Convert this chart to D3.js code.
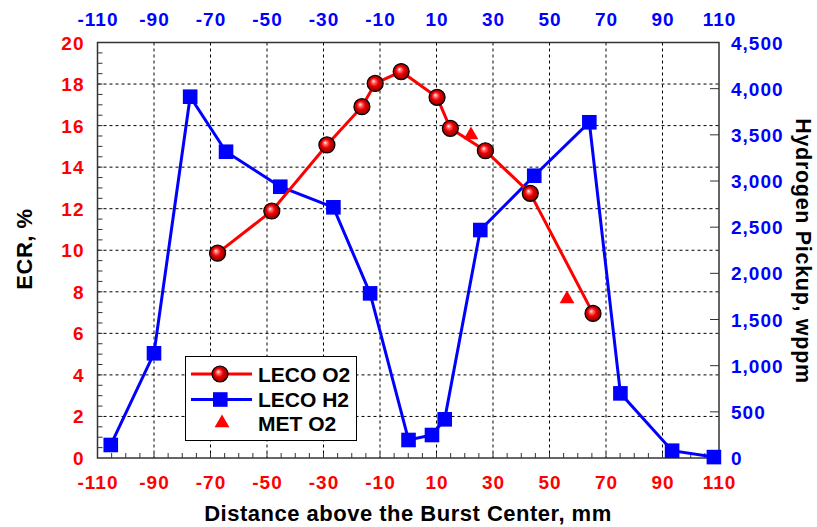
<!DOCTYPE html>
<html><head><meta charset="utf-8">
<script src="https://cdn.jsdelivr.net/npm/d3@7"></script>
<style>
body{margin:0;background:#fff;}
text{font-family:"Liberation Sans",Arial,sans-serif;font-weight:bold;}
</style></head>
<body><svg id="c" width="817" height="527"></svg>
<script>
// Data
const lecoO2X = [-67.5,-48.3,-28.8,-16.4,-11.7,-2.5,10.2,14.9,27.3,43.2,65.4];
const lecoO2Y = [9.86,11.89,15.07,16.91,18.03,18.6,17.36,15.87,14.79,12.74,6.96];
const metO2X = [22.2,56.2];
const metO2Y = [15.55,7.65];
const lecoH2X = [-105.3,-90,-77.2,-64.5,-45.3,-26.5,-13.5,0.1,8.4,12.9,25.5,44.6,64.1,75.1,93.4,108.2];
const lecoH2Y = [141,1134,3913,3317,2938,2715,1783,195,249,419,2469,3057,3636,700,79,10];
const xTicks = [-110,-90,-70,-50,-30,-10,10,30,50,70,90,110];
const yLeftTicks = [0,2,4,6,8,10,12,14,16,18,20];
const yRightTicks = [0,500,1000,1500,2000,2500,3000,3500,4000,4500];
const legendLabels = ["LECO O2","LECO H2","MET O2"];

const svg = d3.select("#c");
const L=97.5, R=719, T=42.5, B=458;
const x = d3.scaleLinear().domain([-110,110]).range([L,R]);
const yL = d3.scaleLinear().domain([0,20]).range([B,T]);
const yR = d3.scaleLinear().domain([0,4500]).range([B,T]);

const defs = svg.append("defs");
const g = defs.append("radialGradient").attr("id","ball").attr("cx","50%").attr("cy","50%").attr("r","55%").attr("fx","38%").attr("fy","35%");
g.append("stop").attr("offset","0%").attr("stop-color","#fff");
g.append("stop").attr("offset","20%").attr("stop-color","#ff7070");
g.append("stop").attr("offset","48%").attr("stop-color","#ee0000");
g.append("stop").attr("offset","82%").attr("stop-color","#a00000");
g.append("stop").attr("offset","100%").attr("stop-color","#400000");

// grid
const grid = svg.append("g").attr("stroke","#000").attr("stroke-width",1).attr("stroke-dasharray","3,3");
xTicks.filter(v=>v>-110&&v<110).forEach(v=>grid.append("line").attr("x1",x(v)).attr("x2",x(v)).attr("y1",T).attr("y2",B));
yLeftTicks.filter(v=>v>0&&v<20).forEach(v=>grid.append("line").attr("y1",yL(v)).attr("y2",yL(v)).attr("x1",L).attr("x2",R));

// minor ticks
const tk = svg.append("g").attr("stroke","#333").attr("stroke-width",1);
d3.range(-105,110,5).forEach(v=>tk.append("line").attr("x1",x(v)).attr("x2",x(v)).attr("y1",B).attr("y2",B-5));
d3.range(0.5,20,0.5).forEach(v=>tk.append("line").attr("y1",yL(v)).attr("y2",yL(v)).attr("x1",L).attr("x2",L+5));
yRightTicks.filter(v=>v>0&&v<4500).forEach(v=>tk.append("line").attr("y1",yR(v)).attr("y2",yR(v)).attr("x1",R).attr("x2",R-9));

// frame
svg.append("rect").attr("x",L).attr("y",T).attr("width",R-L).attr("height",B-T).attr("fill","none").attr("stroke","#333").attr("stroke-width",1.5);

// axes labels
const fs = 19, ls = 1;
svg.append("g").selectAll("text").data(xTicks).join("text").attr("x",d=>x(d)+ls/2).attr("y",488.5).attr("text-anchor","middle")
 .attr("fill","#ff0000").attr("font-size",fs).attr("letter-spacing",ls).text(d=>d);
svg.append("g").selectAll("text").data(xTicks).join("text").attr("x",d=>x(d)+ls/2).attr("y",25.5).attr("text-anchor","middle")
 .attr("fill","#0000ff").attr("font-size",fs).attr("letter-spacing",ls).text(d=>d);
svg.append("g").selectAll("text").data(yLeftTicks).join("text").attr("x",84.5).attr("y",d=>yL(d)+7).attr("text-anchor","end")
 .attr("fill","#ff0000").attr("font-size",fs).attr("letter-spacing",ls).text(d=>d);
svg.append("g").selectAll("text").data(yRightTicks).join("text").attr("x",731).attr("y",d=>yR(d)+7).attr("text-anchor","start")
 .attr("fill","#0000ff").attr("font-size",fs).attr("letter-spacing",ls).text(d=>d3.format(",")(d));

svg.append("text").attr("x",408).attr("y",521).attr("text-anchor","middle").attr("font-size",22).attr("letter-spacing",0.5).attr("fill","#000").text("Distance above the Burst Center, mm");
svg.append("text").attr("transform","translate(32,249) rotate(-90)").attr("text-anchor","middle").attr("font-size",22).attr("letter-spacing",0.5).attr("fill","#000").text("ECR, %");
svg.append("text").attr("transform","translate(796,251) rotate(90)").attr("text-anchor","middle").attr("font-size",21.5).attr("letter-spacing",0.7).attr("fill","#000").text("Hydrogen Pickup, wppm");

// series
const h2 = lecoH2X.map((v,i)=>[v,lecoH2Y[i]]);
const o2 = lecoO2X.map((v,i)=>[v,lecoO2Y[i]]);
const met = metO2X.map((v,i)=>[v,metO2Y[i]]);

svg.append("path").datum(h2).attr("fill","none").attr("stroke","#0000ff").attr("stroke-width",3)
 .attr("d",d3.line().x(d=>x(d[0])).y(d=>yR(d[1])));
svg.append("g").selectAll("rect").data(h2).join("rect").attr("x",d=>x(d[0])-7.3).attr("y",d=>yR(d[1])-7.3).attr("width",14.6).attr("height",14.6).attr("fill","#0000ff");

svg.append("path").datum(o2).attr("fill","none").attr("stroke","#ff0000").attr("stroke-width",3)
 .attr("d",d3.line().x(d=>x(d[0])).y(d=>yL(d[1])));
svg.append("g").selectAll("circle").data(o2).join("circle").attr("cx",d=>x(d[0])).attr("cy",d=>yL(d[1])).attr("r",8)
 .attr("fill","url(#ball)").attr("stroke","#000").attr("stroke-width",1.2);

const tri = d3.symbol().type(d3.symbolTriangle).size(95);
svg.append("g").selectAll("path").data(met).join("path").attr("transform",d=>`translate(${x(d[0])},${yL(d[1])})`).attr("d",tri).attr("fill","#ff0000");

// legend
const lg = svg.append("g");
lg.append("rect").attr("x",185.5).attr("y",356.5).attr("width",171).attr("height",84).attr("fill","#fff").attr("stroke","#000").attr("stroke-width",1);
const rows=[374,399.5,423];
lg.append("line").attr("x1",191).attr("x2",252).attr("y1",rows[0]).attr("y2",rows[0]).attr("stroke","#ff0000").attr("stroke-width",3);
lg.append("circle").attr("cx",220).attr("cy",rows[0]).attr("r",8).attr("fill","url(#ball)").attr("stroke","#000").attr("stroke-width",1.2);
lg.append("line").attr("x1",191).attr("x2",252).attr("y1",rows[1]).attr("y2",rows[1]).attr("stroke","#0000ff").attr("stroke-width",3);
lg.append("rect").attr("x",213).attr("y",rows[1]-7.3).attr("width",14.6).attr("height",14.6).attr("fill","#0000ff");
lg.append("path").attr("transform",`translate(222,${rows[2]})`).attr("d",tri).attr("fill","#ff0000");
lg.selectAll("text.l").data(legendLabels).join("text").attr("x",258).attr("y",(d,i)=>rows[i]+7.5).attr("font-size",21).attr("fill","#000").text(d=>d);
</script></body></html>
